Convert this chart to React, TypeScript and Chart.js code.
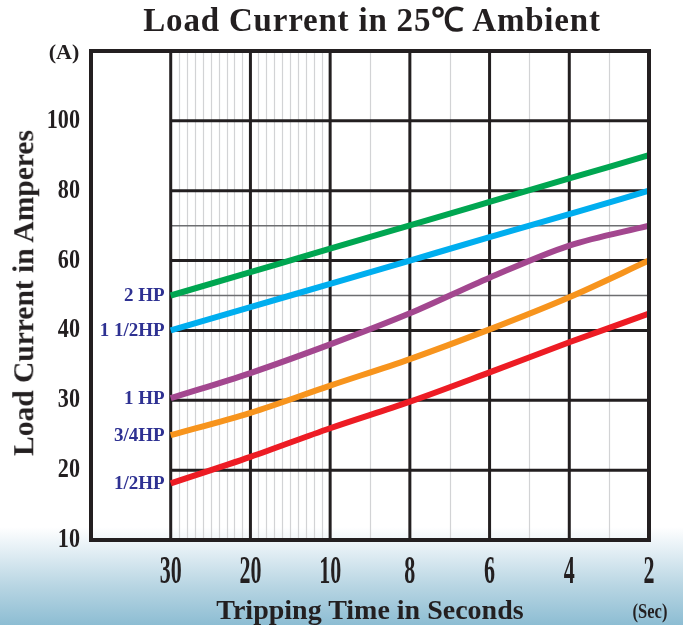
import React, { useEffect, useRef } from "react";
import { Chart, registerables } from "chart.js";

Chart.register(...registerables);

// ---- data ----
const timeLabels = ["30", "20", "10", "8", "6", "4", "2"]; // seconds, left to right
const ampTicks = [10, 20, 30, 40, 60, 80, 100, 120];
const ampTickLabels = ["10", "20", "30", "40", "60", "80", "100", ""];

const hp2 = [50, 56.7, 63.4, 70.1, 76.8, 83.5, 90.2];
const hp1_5 = [40, 46.7, 53.3, 60, 66.7, 73.3, 80];
const hp1 = [30.3, 33.9, 38, 44.9, 55.1, 64.3, 70];
const hp3_4 = [25, 28.2, 32.1, 35.9, 40.3, 49.5, 60];
const hp1_2 = [18.1, 21.9, 26, 29.8, 34, 38.3, 44.8];

const seriesNames = ["2 HP", "1 1/2HP", "1 HP", "3/4HP", "1/2HP"];
const seriesColors = ["#00a651", "#00aeef", "#a3478f", "#f7941d", "#ed1c24"];

// ---- helpers: the amperes axis is a non-uniform scale (piecewise linear between ticks)
function ampToIdx(a: number): number {
  for (let i = 0; i < ampTicks.length - 1; i++) {
    const lo = ampTicks[i], hi = ampTicks[i + 1];
    if (a <= hi || i === ampTicks.length - 2) return i + (a - lo) / (hi - lo);
  }
  return 0;
}

const SERIF = "'Liberation Serif', 'Times New Roman', serif";
const INK = "#231f20";

function condenseLabels(scale: any, k: number) {
  if (scale.__condensed) return;
  scale.__condensed = true;
  const origGet = scale.getLabelItems.bind(scale);
  const origDraw = scale.drawLabels.bind(scale);
  scale._computeLabelArea = () => undefined;
  scale.drawLabels = (area: any) => {
    const ctx = scale.ctx;
    ctx.save();
    ctx.scale(k, 1);
    scale.getLabelItems = (a: any) =>
      origGet(a).map((it: any) => ({
        ...it,
        options: {
          ...it.options,
          translation: [it.options.translation[0] / k, it.options.translation[1]],
        },
      }));
    origDraw(area);
    scale.getLabelItems = origGet;
    ctx.restore();
  };
}

const gridPlugin = {
  id: "customGrid",
  beforeDraw(chart: any) {
    condenseLabels(chart.scales.x, 0.55);
    condenseLabels(chart.scales.y, 0.82);
  },
  beforeDatasetsDraw(chart: any) {
    const { ctx, chartArea, scales } = chart;
    const xs = scales.x, ys = scales.y;
    const top = chartArea.top, bottom = chartArea.bottom;
    const right = chartArea.right;
    const x1 = xs.getPixelForValue(1);
    ctx.save();
    // minor verticals
    ctx.strokeStyle = "#d2d3d5";
    ctx.lineWidth = 1.2;
    const minors: number[] = [];
    for (let i = 1; i < 3; i++) for (let j = 1; j < 10; j++) minors.push(i + j / 10);
    for (let i = 3; i < 7; i++) minors.push(i + 0.5);
    for (const v of minors) {
      const px = Math.round(xs.getPixelForValue(v)) + 0.5;
      ctx.beginPath();
      ctx.moveTo(px, top);
      ctx.lineTo(px, bottom);
      ctx.stroke();
    }
    // thin horizontals at 50 A and 70 A
    ctx.strokeStyle = "#6d6e71";
    ctx.lineWidth = 1.5;
    for (const a of [50, 70]) {
      const py = ys.getPixelForValue(ampToIdx(a));
      ctx.beginPath();
      ctx.moveTo(x1, py);
      ctx.lineTo(right, py);
      ctx.stroke();
    }
    // major horizontals
    ctx.strokeStyle = INK;
    ctx.lineWidth = 3;
    for (let i = 1; i <= 6; i++) {
      const py = ys.getPixelForValue(i);
      ctx.beginPath();
      ctx.moveTo(x1, py);
      ctx.lineTo(right, py);
      ctx.stroke();
    }
    // major verticals
    for (let i = 1; i <= 6; i++) {
      const px = xs.getPixelForValue(i);
      ctx.beginPath();
      ctx.moveTo(px, top);
      ctx.lineTo(px, bottom);
      ctx.stroke();
    }
    ctx.restore();
  },
  afterDatasetsDraw(chart: any) {
    const { ctx, chartArea } = chart;
    ctx.save();
    // frame
    ctx.strokeStyle = INK;
    ctx.lineWidth = 4;
    ctx.strokeRect(chartArea.left, chartArea.top, chartArea.right - chartArea.left, chartArea.bottom - chartArea.top);
    // series labels at start of each line
    ctx.font = `bold 19px ${SERIF}`;
    ctx.fillStyle = "#2e3192";
    ctx.textAlign = "right";
    ctx.textBaseline = "middle";
    chart.data.datasets.forEach((ds: any, i: number) => {
      const pt = chart.getDatasetMeta(i).data[0];
      if (pt) ctx.fillText(ds.label, pt.x - 6, pt.y + 1);
    });
    ctx.restore();
  },
};

export default function App() {
  const ref = useRef<HTMLCanvasElement | null>(null);

  useEffect(() => {
    document.body.style.margin = "0";
    const canvas = ref.current;
    if (!canvas) return;
    const allSeries = [hp2, hp1_5, hp1, hp3_4, hp1_2];
    const chart = new Chart(canvas, {
      type: "line",
      data: {
        datasets: allSeries.map((vals, i) => ({
          label: seriesNames[i],
          data: vals.map((a, j) => ({ x: j + 1, y: ampToIdx(a) })),
          borderColor: seriesColors[i],
          backgroundColor: seriesColors[i],
          borderWidth: 6,
          pointRadius: 0,
          cubicInterpolationMode: "monotone" as const,
          borderCapStyle: "butt" as const,
        })),
      },
      options: {
        animation: false,
        responsive: false,
        devicePixelRatio: 1,
        layout: { padding: { top: 51, right: 34, left: 0, bottom: 0 } },
        plugins: { legend: { display: false }, tooltip: { enabled: false }, title: { display: false } },
        scales: {
          x: {
            type: "linear",
            min: 0,
            max: 7,
            afterFit: (s: any) => { s.height = 85; },
            afterBuildTicks: (s: any) => { s.ticks = [0, 1, 2, 3, 4, 5, 6, 7].map((v) => ({ value: v })); },
            ticks: {
              autoSkip: false,
              maxRotation: 0,
              padding: 9,
              color: INK,
              font: { family: SERIF, size: 40, weight: "bold" },
              callback: (v: any) => (v >= 1 ? timeLabels[v - 1] : ""),
            },
            grid: { display: false, drawTicks: false },
            border: { display: false },
          },
          y: {
            type: "linear",
            min: 0,
            max: 7,
            afterFit: (s: any) => { s.width = 91; },
            afterBuildTicks: (s: any) => { s.ticks = [0, 1, 2, 3, 4, 5, 6, 7].map((v) => ({ value: v })); },
            ticks: {
              autoSkip: false,
              padding: 11,
              color: INK,
              font: { family: SERIF, size: 27, weight: "bold" },
              callback: (v: any) => ampTickLabels[v] ?? "",
            },
            grid: { display: false, drawTicks: false },
            border: { display: false },
          },
        },
      },
      plugins: [gridPlugin],
    });
    return () => chart.destroy();
  }, []);

  const text: React.CSSProperties = {
    position: "absolute",
    fontFamily: SERIF,
    fontWeight: "bold",
    color: INK,
    whiteSpace: "nowrap",
    lineHeight: 1,
  };

  return (
    <div
      style={{
        position: "absolute",
        left: 0,
        top: 0,
        width: 683,
        height: 625,
        overflow: "hidden",
        background:
          "linear-gradient(to bottom, #ffffff 0px, #ffffff 527px, #e4eff5 550px, #b9d6e3 585px, #8dbdd3 625px)",
      }}
    >
      <canvas ref={ref} width={683} height={625} style={{ position: "absolute", left: 0, top: 0, width: 683, height: 625 }} />
      <div style={{ ...text, left: 372, top: 4, fontSize: 33, letterSpacing: "0.8px", transform: "translateX(-50%)" }}>
        Load Current in 25℃ Ambient
      </div>
      <div style={{ ...text, left: 64, top: 52, fontSize: 22, transform: "translate(-50%,-50%)" }}>(A)</div>
      <div
        style={{
          ...text,
          left: 24,
          top: 293,
          fontSize: 29.5,
          transform: "translate(-50%,-50%) rotate(-90deg)",
        }}
      >
        Load Current in Amperes
      </div>
      <div style={{ ...text, left: 370, top: 610, fontSize: 28, transform: "translate(-50%,-50%)" }}>
        Tripping Time in Seconds
      </div>
      <div style={{ ...text, left: 650, top: 611, fontSize: 22, transform: "translate(-50%,-50%) scaleX(0.75)" }}>
        (Sec)
      </div>
    </div>
  );
}
